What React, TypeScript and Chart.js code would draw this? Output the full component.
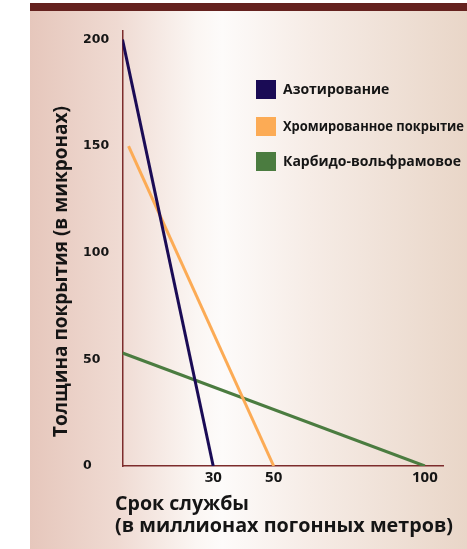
import React, { useEffect, useRef } from 'react';
import { Chart, registerables } from 'chart.js';

Chart.register(...registerables);

// ---- data ----
const seriesNames = ['Азотирование', 'Хромированное покрытие', 'Карбидо-вольфрамовое'];
const seriesColors = ['#1a0b55', '#fcab55', '#4b7c40'];

const nitridingLife = [0, 30];
const nitridingThickness = [200, 0];

const chromeLife = [2, 50];
const chromeThickness = [150, 0];

const carbideLife = [0, 100];
const carbideThickness = [53, 0];

const xTickValues = [30, 50, 100];
const yTickValues = [0, 50, 100, 150, 200];

const yTitle = 'Толщина покрытия (в микронах)';
const xTitleLines = ['Срок службы', '(в миллионах погонных метров)'];

const TITLE_FONT = '"Open Sans", "DejaVu Sans", sans-serif';

const toPoints = (xs: number[], ys: number[]) => xs.map((x, i) => ({ x, y: ys[i] }));

const overlayPlugin = {
  id: 'overlayText',
  afterDraw(chart: any) {
    const ctx = chart.ctx as CanvasRenderingContext2D;
    ctx.save();
    ctx.fillStyle = '#151515';
    ctx.textAlign = 'left';
    ctx.textBaseline = 'alphabetic';

    // y axis title (rotated)
    ctx.font = `bold 19px ${TITLE_FONT}`;
    ctx.save();
    ctx.translate(67, 437);
    ctx.rotate(-Math.PI / 2);
    ctx.fillText(yTitle, 0, 0, 342);
    ctx.restore();

    // x axis title
    ctx.font = `bold 20px ${TITLE_FONT}`;
    ctx.fillText(xTitleLines[0], 115, 510, 134);
    ctx.fillText(xTitleLines[1], 115, 532, 338);

    // legend
    const tops = [80, 117, 152];
    chart.data.datasets.forEach((ds: any, i: number) => {
      const top = tops[i];
      ctx.fillStyle = ds.borderColor;
      ctx.fillRect(256, top, 20, 19);
      ctx.fillStyle = '#151515';
      ctx.font = `bold 14px ${TITLE_FONT}`;
      ctx.fillText(ds.label, 283, top + 13.5, 181);
    });
    ctx.restore();
  },
};

export default function App() {
  const canvasRef = useRef<HTMLCanvasElement | null>(null);

  useEffect(() => {
    if (!canvasRef.current) return;
    const lifes = [nitridingLife, chromeLife, carbideLife];
    const thick = [nitridingThickness, chromeThickness, carbideThickness];
    const chart = new Chart(canvasRef.current, {
      type: 'line',
      data: {
        datasets: seriesNames.map((name, i) => ({
          label: name,
          data: toPoints(lifes[i], thick[i]),
          borderColor: seriesColors[i],
          backgroundColor: seriesColors[i],
          borderWidth: 3,
          pointRadius: 0,
          fill: false,
          tension: 0,
        })),
      },
      options: {
        animation: false,
        responsive: false,
        layout: { padding: { left: 83, top: 31, right: 24, bottom: 0 } },
        plugins: {
          legend: { display: false },
          tooltip: { enabled: false },
        },
        scales: {
          x: {
            type: 'linear',
            min: 0,
            max: 106,
            grid: { display: false, drawTicks: false },
            border: { display: true, color: '#7d2c2c', width: 1.5 },
            ticks: {
              color: '#151515',
              font: { family: TITLE_FONT, size: 15, weight: 'bold' },
              padding: 3,
              autoSkip: false,
              maxRotation: 0,
            },
            afterBuildTicks: (s: any) => {
              s.ticks = xTickValues.map((v) => ({ value: v }));
            },
            afterFit: (s: any) => {
              s.height = 83;
            },
          },
          y: {
            type: 'linear',
            min: 0,
            max: 204,
            grid: { display: false, drawTicks: false },
            border: { display: true, color: '#7d2c2c', width: 1.5 },
            ticks: {
              color: '#151515',
              font: { family: '"DejaVu Sans", sans-serif', size: 12.5, weight: 'bold' },
              crossAlign: 'far',
              autoSkip: false,
            },
            afterBuildTicks: (s: any) => {
              s.ticks = yTickValues.map((v) => ({ value: v }));
            },
            afterFit: (s: any) => {
              s.width = 39.5;
            },
          },
        },
      },
      plugins: [overlayPlugin],
    } as any);
    return () => chart.destroy();
  }, []);

  return (
    <div style={{ position: 'fixed', left: 0, top: 0, width: 467, height: 549, background: '#ffffff', overflow: 'hidden' }}>
      <div
        style={{
          position: 'absolute',
          left: 30,
          top: 3,
          right: 0,
          bottom: 0,
          background:
            'linear-gradient(to right, #e6c7bc 0%, #efdad2 20%, #fbf6f3 38%, #fdfbfa 44%, #f6ece6 64%, #e9d6c8 100%)',
        }}
      />
      <div style={{ position: 'absolute', left: 30, top: 3, right: 0, height: 8, background: '#65221f' }} />
      <canvas ref={canvasRef} width={467} height={549} style={{ position: 'absolute', left: 0, top: 0 }} />
    </div>
  );
}
